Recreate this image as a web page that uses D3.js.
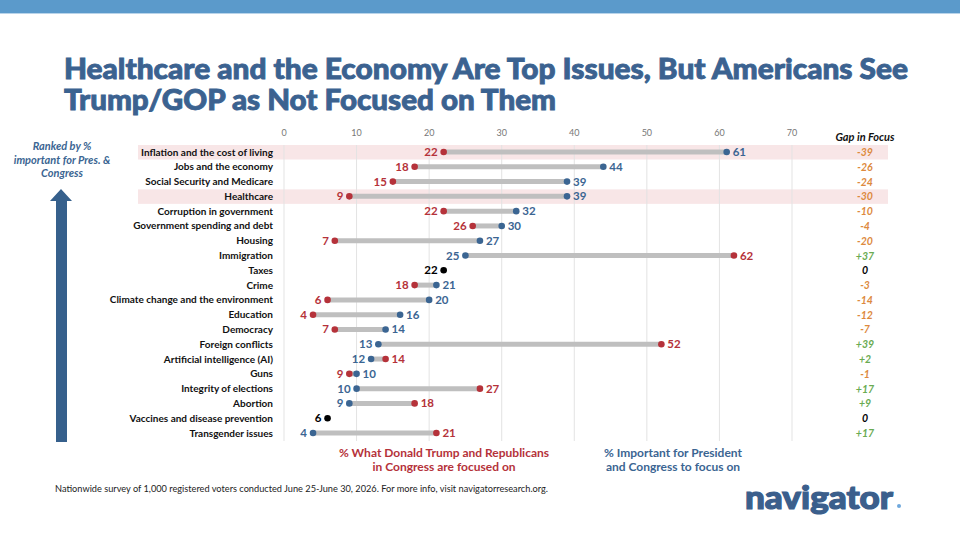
<!DOCTYPE html>
<meta charset="utf-8">
<head>
    <title>Top Issues vs Focus</title>
    <script type="text/javascript" src="https://cdn.jsdelivr.net/npm/d3@7"></script>
    <style>
        body { margin: 0; background: #ffffff; }
        text { font-family: Lato, "Open Sans", sans-serif; }
    </style>
</head>
<body>
    <div id="chart"></div>
    <script>
        // data
        var issues = ["Inflation and the cost of living","Jobs and the economy","Social Security and Medicare","Healthcare",
          "Corruption in government","Government spending and debt","Housing","Immigration","Taxes","Crime",
          "Climate change and the environment","Education","Democracy","Foreign conflicts","Artificial intelligence (AI)",
          "Guns","Integrity of elections","Abortion","Vaccines and disease prevention","Transgender issues"]
        var important = [61,44,39,39,32,30,27,25,22,21,20,16,14,13,12,10,10,9,6,4]
        var focused = [22,18,15,9,22,26,7,62,22,18,6,4,7,52,14,9,27,18,6,21]
        var gaps = ["-39","-26","-24","-30","-10","-4","-20","+37","0","-3","-14","-12","-7","+39","+2","-1","+17","+9","0","+17"]
        var highlighted = ["Inflation and the cost of living","Healthcare"]
        var xTicks = [0,10,20,30,40,50,60,70]

        var width = 960, height = 540
        var red = "#b5323a", blue = "#3b6592", grey = "#bfbfbf"

        var svg = d3.select("#chart").append("svg")
          .attr("width",width).attr("height",height)

        // top band
        svg.append("rect").attr("x",0).attr("y",0).attr("width",width).attr("height",13).attr("fill","#5b9acb")
        svg.append("rect").attr("x",0).attr("y",13).attr("width",width).attr("height",1).attr("fill","#b9d4ea")

        // title (stroke thickens the bold face a bit)
        var titleLines = ["Healthcare and the Economy Are Top Issues, But Americans See","Trump/GOP as Not Focused on Them"]
        var titleLens = [844,492]
        svg.selectAll(".title").data(titleLines).enter().append("text")
          .attr("class","title")
          .attr("x",64).attr("y",function(d,i){return 79+i*31})
          .attr("textLength",function(d,i){return titleLens[i]})
          .attr("lengthAdjust","spacingAndGlyphs")
          .style("font-weight","900").style("font-size","29px")
          .attr("fill","#3b6290").attr("stroke","#3b6290").attr("stroke-width",0.9)
          .text(function(d){return d})

        var x = d3.scaleLinear().domain([0,70]).range([284,792])
        var y = d3.scalePoint().domain(issues).range([152,433])

        // highlight bands
        svg.selectAll(".hl").data(highlighted).enter().append("rect")
          .attr("x",138).attr("width",750)
          .attr("y",function(d){return y(d)-7}).attr("height",14.5)
          .attr("fill","#f8e6e7")

        // grid + tick labels
        svg.selectAll(".grid").data(xTicks).enter().append("line")
          .attr("x1",function(d){return x(d)}).attr("x2",function(d){return x(d)})
          .attr("y1",145).attr("y2",441)
          .attr("stroke","#e3e3e3").attr("stroke-width",1)
        svg.selectAll(".tick").data(xTicks).enter().append("text")
          .attr("x",function(d){return x(d)}).attr("y",136)
          .attr("text-anchor","middle").style("font-size","9px").attr("fill","#777")
          .text(function(d){return d})

        // issue labels
        svg.selectAll(".issue").data(issues).enter().append("text")
          .attr("x",273).attr("y",function(d){return y(d)+3.5})
          .attr("text-anchor","end").style("font-size","10px").style("font-weight","700")
          .attr("fill","#111")
          .text(function(d){return d})

        var rows = issues.map(function(d,i){return {name:d, imp:important[i], foc:focused[i], gap:gaps[i]}})

        // connecting bars
        svg.selectAll(".bar").data(rows).enter().append("line")
          .attr("x1",function(d){return x(d.imp)}).attr("x2",function(d){return x(d.foc)})
          .attr("y1",function(d){return y(d.name)}).attr("y2",function(d){return y(d.name)})
          .attr("stroke",grey).attr("stroke-width",5)

        // dots and value labels
        rows.forEach(function(d){
          var cy = y(d.name)
          var pts
          if(d.imp == d.foc){
            pts = [{v:d.imp, c:"#000", side:-1}]
          } else {
            pts = [{v:d.imp, c:blue, side:d.imp>d.foc?1:-1},{v:d.foc, c:red, side:d.foc>d.imp?1:-1}]
          }
          pts.forEach(function(p){
            svg.append("circle").attr("cx",x(p.v)).attr("cy",cy).attr("r",3.3).attr("fill",p.c)
            svg.append("text")
              .attr("x",x(p.v)+p.side*6).attr("y",cy+4)
              .attr("text-anchor",p.side>0?"start":"end")
              .style("font-size","11.5px").style("font-weight","700")
              .attr("fill",p.c).text(p.v)
          })
        })

        // gap column
        svg.append("text").attr("x",865).attr("y",141).attr("text-anchor","middle")
          .style("font-size","11px").style("font-weight","700").style("font-style","italic")
          .attr("fill","#111").text("Gap in Focus")
        svg.selectAll(".gap").data(rows).enter().append("text")
          .attr("x",865).attr("y",function(d){return y(d.name)+4})
          .attr("text-anchor","middle").style("font-size","10.5px").style("font-weight","700").style("font-style","italic")
          .attr("fill",function(d){return d.gap=="0"?"#000":(d.gap[0]=="+"?"#6aab52":"#dd8a3e")})
          .text(function(d){return d.gap})

        // ranked-by note and arrow
        var noteLines = ["Ranked by %","important for Pres. &","Congress"]
        svg.selectAll(".note").data(noteLines).enter().append("text")
          .attr("x",62).attr("y",function(d,i){return 150+i*13.5})
          .attr("text-anchor","middle").style("font-size","11px").style("font-weight","700").style("font-style","italic")
          .attr("fill","#3b6592").text(function(d){return d})
        svg.append("path")
          .attr("d","M56,442 L56,201 L50,201 L61,189 L72,201 L67,201 L67,442 Z")
          .attr("fill","#36608c")

        // legend
        var redLines = ["%  What Donald Trump and Republicans","in Congress are focused on"]
        var blueLines = ["% Important for President","and Congress to focus on"]
        svg.selectAll(".lr").data(redLines).enter().append("text")
          .attr("x",444).attr("y",function(d,i){return 457+i*14})
          .attr("text-anchor","middle").style("font-size","12px").style("font-weight","700")
          .attr("fill",red).text(function(d){return d})
        svg.selectAll(".lb").data(blueLines).enter().append("text")
          .attr("x",673).attr("y",function(d,i){return 457+i*14})
          .attr("text-anchor","middle").style("font-size","12px").style("font-weight","700")
          .attr("fill",blue).text(function(d){return d})

        // footnote
        svg.append("text").attr("x",55).attr("y",492)
          .attr("textLength",493).attr("lengthAdjust","spacingAndGlyphs")
          .style("font-size","8.5px").attr("fill","#222")
          .text("Nationwide survey of 1,000 registered voters conducted June 25-June 30, 2026. For more info, visit navigatorresearch.org.")

        // logo
        svg.append("text").attr("x",745).attr("y",509)
          .attr("textLength",148).attr("lengthAdjust","spacingAndGlyphs")
          .style("font-size","32px").style("font-weight","900")
          .attr("fill","#3b5f8c").attr("stroke","#3b5f8c").attr("stroke-width",1.2)
          .text("navigator")
        svg.append("circle").attr("cx",899).attr("cy",506).attr("r",2).attr("fill","#6fa8dc")
    </script>
</body>
</html>
